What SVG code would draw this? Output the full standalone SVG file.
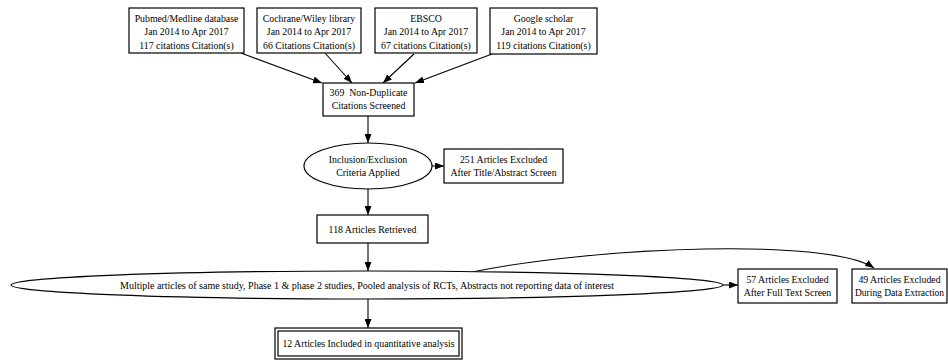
<svg xmlns="http://www.w3.org/2000/svg" width="948" height="363" viewBox="0 0 948 363">
<defs>
<marker id="ah" markerUnits="userSpaceOnUse" markerWidth="9" markerHeight="7" refX="9" refY="3.5" orient="auto">
<path d="M0,0 L9,3.5 L0,7 z" fill="#000"/>
</marker>
<style>
.n{fill:#fff;stroke:#000;stroke-width:1.2}
.t{font-family:"Liberation Serif","Times New Roman",serif;font-size:9.8px;fill:#000;text-anchor:middle}
.s{font-size:9.6px}
.e{fill:none;stroke:#000;stroke-width:1.1;marker-end:url(#ah)}
</style>
</defs>
<rect width="948" height="363" fill="#fff"/>
<g id="edges">
<path class="e" d="M241,53 L322,83"/>
<path class="e" d="M325,53 L352,83"/>
<path class="e" d="M414,54 L383,83"/>
<path class="e" d="M492,54 L415,83"/>
<path class="e" d="M368,116 L368,143"/>
<path class="e" d="M432,166 L444,166"/>
<path class="e" d="M368,189 L368,215"/>
<path class="e" d="M368,243 L368,271"/>
<path class="e" d="M723,285 L738,285"/>
<path class="e" d="M472,272 C600,246 830,238 874,268"/>
<path class="e" d="M368,299 L368,328"/>
</g>
<g id="pubmed">
<rect class="n" x="129" y="8" width="115" height="45"/>
<text class="t" x="186.5" y="21.5">Pubmed/Medline database</text>
<text class="t" x="186.5" y="35">Jan 2014 to Apr 2017</text>
<text class="t" x="186.5" y="48.5">117 citations Citation(s)</text>
</g>
<g id="cochrane">
<rect class="n" x="257" y="8" width="104" height="45"/>
<text class="t" x="309" y="21.5">Cochrane/Wiley library</text>
<text class="t" x="309" y="35">Jan 2014 to Apr 2017</text>
<text class="t" x="309" y="48.5">66 Citations Citation(s)</text>
</g>
<g id="ebsco">
<rect class="n" x="375" y="8" width="102" height="45"/>
<text class="t" x="426" y="21.5">EBSCO</text>
<text class="t" x="426" y="35">Jan 2014 to Apr 2017</text>
<text class="t" x="426" y="48.5">67 citations Citation(s)</text>
</g>
<g id="google">
<rect class="n" x="490" y="8" width="107" height="46"/>
<text class="t" x="543.5" y="21.5">Google scholar</text>
<text class="t" x="543.5" y="35">Jan 2014 to Apr 2017</text>
<text class="t" x="543.5" y="48.5">119 citations Citation(s)</text>
</g>
<g id="screened">
<rect class="n" x="323" y="83" width="91" height="33"/>
<text class="t" x="368.5" y="96">369&#160; Non-Duplicate</text>
<text class="t" x="368.5" y="109">Citations Screened</text>
</g>
<g id="criteria">
<ellipse class="n" cx="368" cy="166" rx="64" ry="23"/>
<text class="t" x="368" y="162.5">Inclusion/Exclusion</text>
<text class="t" x="368" y="176">Criteria Applied</text>
</g>
<g id="excluded251">
<rect class="n" x="444" y="149" width="119" height="34"/>
<text class="t" x="503.5" y="162.5">251 Articles Excluded</text>
<text class="t" x="503.5" y="176">After Title/Abstract Screen</text>
</g>
<g id="retrieved">
<rect class="n" x="317" y="215" width="111" height="28"/>
<text class="t" x="372.5" y="232.5">118 Articles Retrieved</text>
</g>
<g id="reasons">
<ellipse class="n" cx="367" cy="285" rx="356" ry="14"/>
<text class="t s" x="367" y="288.5" textLength="494" lengthAdjust="spacingAndGlyphs">Multiple articles of same study, Phase 1 &amp; phase 2 studies, Pooled analysis of RCTs, Abstracts not reporting data of interest</text>
</g>
<g id="excluded57">
<rect class="n" x="738" y="269" width="99" height="34"/>
<text class="t" x="787.5" y="282.5">57 Articles Excluded</text>
<text class="t" x="787.5" y="296">After Full Text Screen</text>
</g>
<g id="excluded49">
<rect class="n" x="852" y="269" width="95" height="34"/>
<text class="t" x="899.5" y="282.5">49 Articles Excluded</text>
<text class="t" x="899.5" y="296" textLength="89" lengthAdjust="spacingAndGlyphs">During Data Extraction</text>
</g>
<g id="included">
<rect class="n" x="275" y="328" width="187" height="31"/>
<rect class="n" x="278" y="331" width="181" height="25"/>
<text class="t" x="368.5" y="347">12 Articles Included in quantitative analysis</text>
</g>
</svg>
